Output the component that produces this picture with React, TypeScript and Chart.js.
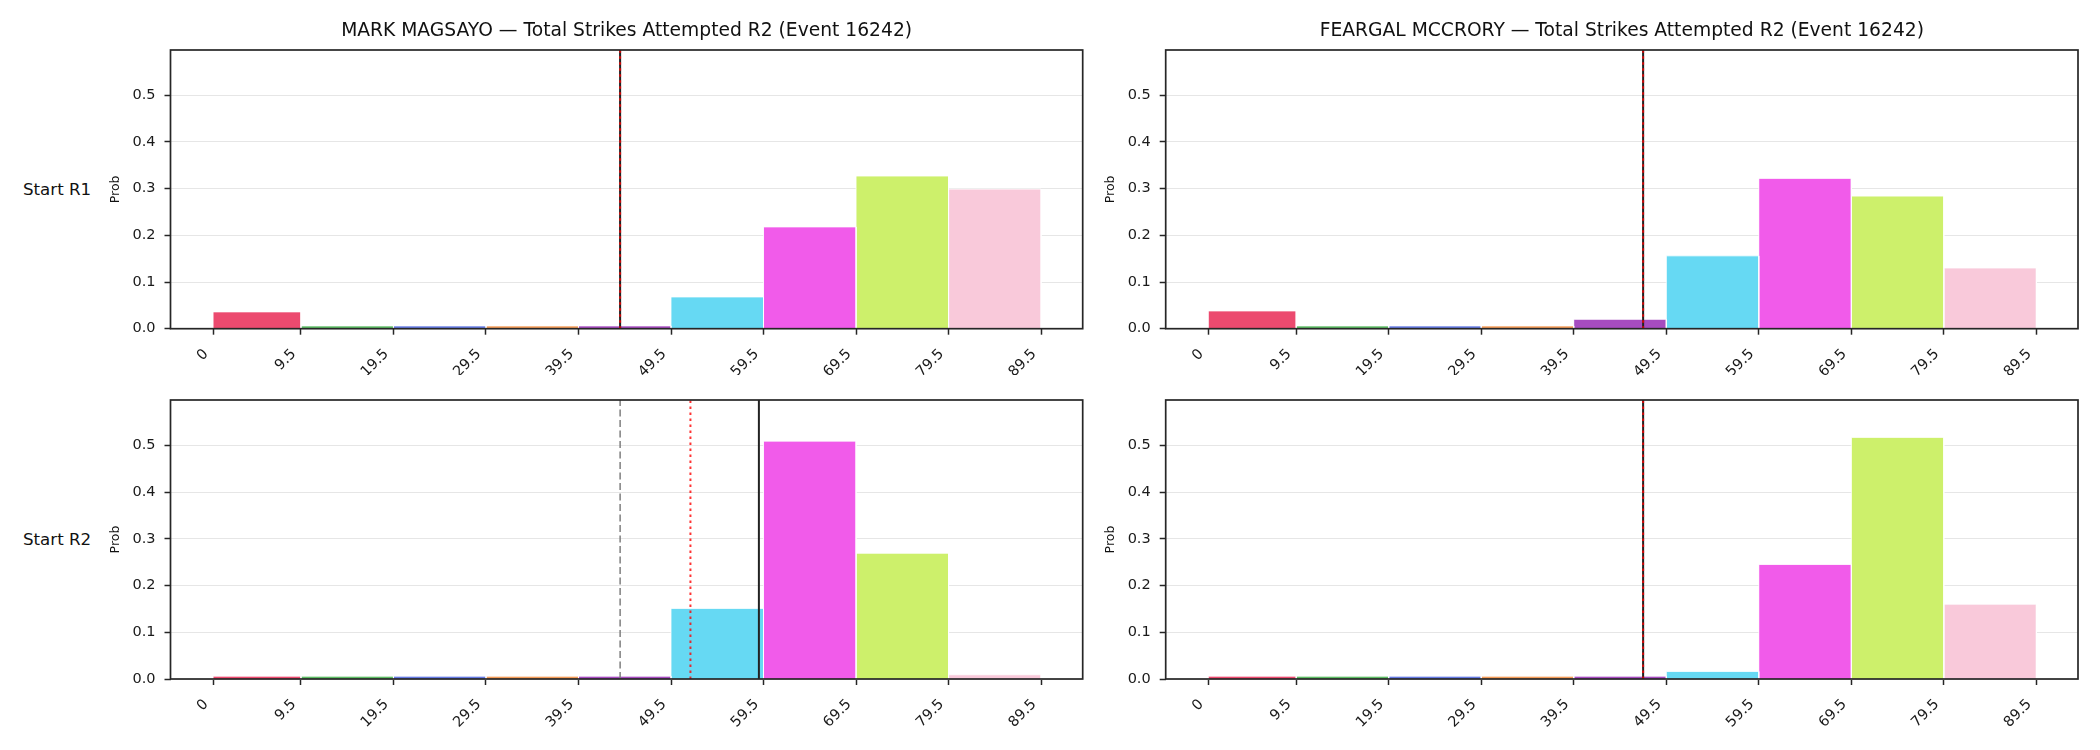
import React, { useEffect, useRef } from "react";
import { Chart, registerables } from "chart.js";

Chart.register(...registerables);

// ---------- data ----------
const binEdges = [0, 9.5, 19.5, 29.5, 39.5, 49.5, 59.5, 69.5, 79.5, 89.5];
const xTickLabels = ["0", "9.5", "19.5", "29.5", "39.5", "49.5", "59.5", "69.5", "79.5", "89.5"];
const yTickValues = [0, 0.1, 0.2, 0.3, 0.4, 0.5];
const binColors = [
  "#EC4A6F", "#5CBB63", "#6479E2", "#F39B57", "#A64CC0",
  "#66D9F3", "#F15BEA", "#CDF06B", "#F9C9DA",
];

const magsayoR1 = [0.036, 0.006, 0.006, 0.006, 0.006, 0.068, 0.218, 0.327, 0.299];
const mccroryR1 = [0.038, 0.006, 0.006, 0.006, 0.020, 0.156, 0.322, 0.284, 0.130];
const magsayoR2 = [0.006, 0.006, 0.006, 0.006, 0.006, 0.151, 0.509, 0.269, 0.009];
const mccroryR2 = [0.006, 0.006, 0.006, 0.006, 0.006, 0.016, 0.245, 0.517, 0.160];

// reference lines: [dashed grey, dotted red, solid black]
const magsayoR1Lines = [44, 44, 44];
const mccroryR1Lines = [47, 47, 47];
const magsayoR2Lines = [44, 51.6, 59];
const mccroryR2Lines = [47, 47, 47];

const titles = [
  "MARK MAGSAYO — Total Strikes Attempted R2 (Event 16242)",
  "FEARGAL MCCRORY — Total Strikes Attempted R2 (Event 16242)",
];
const rowLabels = ["Start R1", "Start R2"];
const yAxisLabel = "Prob";

const X_MIN = -4.6;
const X_MAX = 94.0;
const Y_MAX = 0.597;

// ---------- component ----------
const FONT = "'DejaVu Sans', 'Liberation Sans', sans-serif";

type Box = { x: number; y: number; w: number; h: number };
type Plot = { l: number; t: number; r: number; b: number };

const spinePlugin = {
  id: "spines",
  afterDatasetsDraw(chart: any) {
    const { ctx, chartArea } = chart;
    const { left, top, right, bottom } = chartArea;
    ctx.save();
    ctx.strokeStyle = "#262626";
    ctx.lineWidth = 1.7;
    ctx.strokeRect(left, top, right - left, bottom - top);
    ctx.restore();
  },
};

function Panel(props: {
  values: number[];
  lines: number[];
  title?: string;
  canvas: Box;
  plot: Plot;
  probX: number;
}) {
  const ref = useRef<HTMLCanvasElement>(null);
  const { values, lines, title, canvas, plot, probX } = props;

  useEffect(() => {
    if (!ref.current) return;
    const yAxisW = plot.l - canvas.x;
    const topSpace = plot.t - canvas.y;
    const rightPad = canvas.x + canvas.w - plot.r;
    const xAxisH = canvas.y + canvas.h - plot.b;
    const titleSize = 18.7;
    const titleLH = titleSize * 1.2;
    const titlePadTop = 20.5 - (titleLH - 21.6) / 2;
    const probSize = 12.5;
    const tickSize = 14.5;

    const datasets: any[] = [];
    const lineStyles = [
      { color: "#7f7f7f", width: 1.5, dash: [7, 3.5], order: 2 },
      { color: "rgba(255,0,0,0.8)", width: 2, dash: [2.5, 3.5], order: 0 },
      { color: "#222222", width: 2, dash: [] as number[], order: 1 },
    ];
    lines.forEach((xv, i) => {
      const st = lineStyles[i];
      datasets.push({
        type: "line",
        data: [
          { x: xv, y: 0 },
          { x: xv, y: Y_MAX },
        ],
        borderColor: st.color,
        borderWidth: st.width,
        borderDash: st.dash,
        fill: false,
        pointRadius: 0,
        order: st.order,
      });
    });
    values.forEach((v, i) => {
      datasets.push({
        type: "line",
        data: [
          { x: binEdges[i], y: 0 },
          { x: binEdges[i], y: v },
          { x: binEdges[i + 1], y: v },
          { x: binEdges[i + 1], y: 0 },
        ],
        backgroundColor: binColors[i],
        borderColor: "#ffffff",
        borderWidth: 0.8,
        fill: "origin",
        pointRadius: 0,
        tension: 0,
        order: 10,
      });
    });

    const chart = new Chart(ref.current, {
      type: "line",
      data: { datasets },
      options: {
        responsive: false,
        animation: false,
        events: [],
        layout: {
          padding: { left: 0, right: rightPad, top: title ? 0 : topSpace, bottom: 0 },
        },
        plugins: {
          legend: { display: false },
          tooltip: { enabled: false },
          title: title
            ? {
                display: true,
                fullSize: false,
                text: title,
                color: "#111111",
                font: { family: FONT, size: titleSize, weight: "normal", lineHeight: 1.2 },
                padding: { top: titlePadTop, bottom: topSpace - titlePadTop - titleLH },
              }
            : { display: false },
        },
        scales: {
          x: {
            type: "linear",
            min: X_MIN,
            max: X_MAX,
            afterBuildTicks: (s: any) => {
              s.ticks = binEdges.map((v) => ({ value: v }));
            },
            afterFit: (s: any) => {
              s.height = xAxisH;
            },
            ticks: {
              autoSkip: false,
              maxRotation: 45,
              minRotation: 45,
              padding: 11,
              labelOffset: -7,
              color: "#1a1a1a",
              font: { family: FONT, size: tickSize },
              callback: (_v: any, i: number) => xTickLabels[i],
            },
            grid: {
              display: true,
              drawOnChartArea: false,
              drawTicks: true,
              tickLength: 6,
              tickColor: "#262626",
              tickWidth: 1.5,
            },
            border: { display: false },
          },
          y: {
            type: "linear",
            min: 0,
            max: Y_MAX,
            afterBuildTicks: (s: any) => {
              s.ticks = yTickValues.map((v) => ({ value: v }));
            },
            afterFit: (s: any) => {
              s.width = yAxisW;
            },
            ticks: {
              padding: 9,
              color: "#1a1a1a",
              font: { family: FONT, size: tickSize },
              callback: (v: any) => Number(v).toFixed(1),
            },
            grid: {
              color: "#e6e6e6",
              lineWidth: 1,
              drawTicks: true,
              tickLength: 6,
              tickColor: "#262626",
              tickWidth: 1.5,
            },
            border: { display: false },
            title: {
              display: true,
              text: yAxisLabel,
              color: "#111111",
              font: { family: FONT, size: probSize, lineHeight: 1.2 },
              padding: { top: probX - canvas.x - (probSize * 1.2) / 2, bottom: 0 },
            },
          },
        },
      } as any,
      plugins: [spinePlugin],
    });
    return () => chart.destroy();
  }, []);

  return (
    <canvas
      ref={ref}
      width={canvas.w}
      height={canvas.h}
      style={{
        position: "absolute",
        left: canvas.x,
        top: canvas.y,
        width: canvas.w,
        height: canvas.h,
      }}
    />
  );
}

export default function App() {
  const leftPlotX = { l: 170.5, r: 1082.7 };
  const rightPlotX = { l: 1165.7, r: 2078 };
  const topPlotY = { t: 50, b: 328.7 };
  const botPlotY = { t: 400, b: 679 };
  const labelStyle: React.CSSProperties = {
    position: "absolute",
    left: 23,
    fontFamily: FONT,
    fontSize: 16.67,
    lineHeight: "20px",
    color: "#111111",
    whiteSpace: "nowrap",
  };
  return (
    <div
      style={{
        position: "absolute",
        left: 0,
        top: 0,
        width: 2100,
        height: 750,
        background: "#ffffff",
        overflow: "hidden",
      }}
    >
      <div style={{ ...labelStyle, top: 179.8 }}>{rowLabels[0]}</div>
      <div style={{ ...labelStyle, top: 529.8 }}>{rowLabels[1]}</div>
      <Panel
        values={magsayoR1}
        lines={magsayoR1Lines}
        title={titles[0]}
        canvas={{ x: 0, y: 0, w: 1100, h: 375 }}
        plot={{ ...leftPlotX, ...topPlotY }}
        probX={116}
      />
      <Panel
        values={mccroryR1}
        lines={mccroryR1Lines}
        title={titles[1]}
        canvas={{ x: 1100, y: 0, w: 1000, h: 375 }}
        plot={{ ...rightPlotX, ...topPlotY }}
        probX={1111}
      />
      <Panel
        values={magsayoR2}
        lines={magsayoR2Lines}
        canvas={{ x: 0, y: 375, w: 1100, h: 375 }}
        plot={{ ...leftPlotX, ...botPlotY }}
        probX={116}
      />
      <Panel
        values={mccroryR2}
        lines={mccroryR2Lines}
        canvas={{ x: 1100, y: 375, w: 1000, h: 375 }}
        plot={{ ...rightPlotX, ...botPlotY }}
        probX={1111}
      />
    </div>
  );
}
